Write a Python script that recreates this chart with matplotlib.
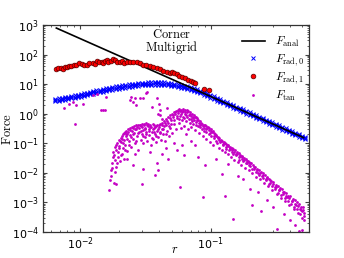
import matplotlib
matplotlib.use("Agg")
import matplotlib.pyplot as plt
from matplotlib.ticker import NullFormatter

plt.rcParams["mathtext.fontset"] = "cm"

# ---------------- data ----------------
anal_r = [0.0066, 0.51]
anal_F = [790.0, 0.155]

# F_rad,0 : radius and (upper, middle, lower) values of the dense band
rad0_r = [0.0065, 0.0069, 0.0073, 0.0077, 0.0081, 0.0086, 0.0091, 0.0096, 0.0101, 0.0107,
          0.0113, 0.0119, 0.0126, 0.0133, 0.0141, 0.0149, 0.0158, 0.0167, 0.0177, 0.0187,
          0.0198, 0.0210, 0.0222, 0.0235, 0.0249, 0.0264, 0.0279, 0.0296, 0.0313, 0.0332,
          0.0351, 0.0372, 0.0394, 0.0417, 0.0442, 0.0468, 0.0496, 0.0525, 0.0556, 0.0589,
          0.0624, 0.0661, 0.0700, 0.0741, 0.0785, 0.0832, 0.0881, 0.0933, 0.0988, 0.1047,
          0.1109, 0.1175, 0.1245, 0.1318, 0.1396, 0.1479, 0.1567, 0.1660, 0.1758, 0.1862,
          0.1972, 0.2089, 0.2213, 0.2344, 0.2483, 0.2630, 0.2786, 0.2951, 0.3126, 0.3311,
          0.3508, 0.3715, 0.3936, 0.4169, 0.4416, 0.4677, 0.4955, 0.5200]
rad0_F = [(3.2, 2.9, 2.6), (3.3, 3.0, 2.75), (3.5, 3.15, 2.9), (3.65, 3.3, 3.0), (3.8, 3.45, 3.15),
          (4.0, 3.6, 3.3), (4.2, 3.8, 3.45), (4.4, 4.0, 3.6), (4.65, 4.2, 3.8), (4.9, 4.45, 4.0),
          (5.2, 4.7, 4.25), (5.5, 4.95, 4.5), (5.8, 5.25, 4.75), (6.1, 5.5, 5.0), (6.5, 5.85, 5.3),
          (6.8, 6.15, 5.6), (7.2, 6.5, 5.9), (7.6, 6.85, 6.2), (8.0, 7.2, 6.5), (8.4, 7.55, 6.8),
          (8.7, 7.9, 7.1), (9.1, 8.25, 7.4), (9.5, 8.6, 7.7), (9.8, 8.9, 8.0), (10.2, 9.2, 8.3),
          (10.5, 9.5, 8.6), (10.8, 9.8, 8.9), (11.1, 10.0, 9.1), (11.3, 10.2, 9.3), (11.5, 10.4, 9.4),
          (11.6, 10.5, 9.5), (11.7, 10.6, 9.6), (11.7, 10.6, 9.6), (11.6, 10.5, 9.5), (11.4, 10.3, 9.3),
          (11.1, 10.0, 9.0), (10.8, 9.7, 8.7), (10.4, 9.3, 8.4), (9.9, 8.9, 8.0), (9.4, 8.5, 7.6),
          (8.9, 8.0, 7.2), (8.4, 7.5, 6.8), (7.8, 7.0, 6.3), (7.2, 6.5, 5.8), (6.6, 5.95, 5.35),
          (6.0, 5.4, 4.9), (5.4, 4.9, 4.4), (4.9, 4.4, 3.95), (4.35, 3.9, 3.5), (3.85, 3.45, 3.1),
          (3.4, 3.05, 2.75), (3.07, 2.77, 2.5), (2.74, 2.47, 2.22), (2.45, 2.21, 1.99), (2.19, 1.97, 1.78),
          (1.95, 1.76, 1.59), (1.74, 1.57, 1.42), (1.56, 1.41, 1.27), (1.40, 1.26, 1.13), (1.24, 1.12, 1.01),
          (1.11, 1.0, 0.90), (0.99, 0.895, 0.805), (0.89, 0.80, 0.72), (0.79, 0.715, 0.645), (0.71, 0.638, 0.575),
          (0.63, 0.57, 0.515), (0.565, 0.509, 0.46), (0.505, 0.455, 0.41), (0.45, 0.406, 0.366), (0.40, 0.363, 0.327),
          (0.36, 0.324, 0.292), (0.32, 0.29, 0.261), (0.287, 0.259, 0.233), (0.256, 0.231, 0.208), (0.229, 0.207, 0.186),
          (0.205, 0.185, 0.166), (0.183, 0.165, 0.149), (0.166, 0.15, 0.135)]

# F_rad,1
rad1_pts = [(0.00656, 32), (0.0068, 35), (0.00713, 35.7), (0.0074, 33), (0.00768, 38.6), (0.0080, 37),
            (0.00828, 41.7), (0.0086, 40), (0.00905, 46), (0.0094, 43), (0.00988, 50), (0.0103, 47),
            (0.0108, 44), (0.01125, 45), (0.0118, 50), (0.01265, 53), (0.0130, 48), (0.0134, 60),
            (0.0139, 55), (0.01465, 57), (0.0150, 52), (0.0155, 62), (0.0160, 66), (0.0165, 58),
            (0.01715, 59), (0.0178, 70), (0.0185, 64), (0.0192, 56), (0.0202, 54), (0.0210, 60),
            (0.0218, 50), (0.0228, 55), (0.0241, 54), (0.0255, 57), (0.0271, 54), (0.0285, 50),
            (0.0304, 46), (0.0320, 44), (0.0342, 40.7), (0.0362, 38), (0.0385, 35.7), (0.0405, 32),
            (0.0432, 28), (0.0460, 26), (0.0486, 24), (0.0501, 26.1), (0.0522, 23.1), (0.0547, 21.3),
            (0.0573, 19.1), (0.0597, 17.7), (0.0633, 15.6), (0.0671, 13.7), (0.070, 12.6), (0.0725, 12.0),
            (0.0755, 10.6), (0.0889, 7.1), (0.0966, 6.1)]

# F_tan : dome part
tan_dome = [(0.0166, 0.0027), (0.0170, 0.0055), (0.0173, 0.012), (0.0176, 0.022), (0.0178, 0.035),
            (0.0180, 0.05), (0.0182, 0.0045), (0.0184, 0.028), (0.0186, 0.075), (0.0188, 0.016),
            (0.0190, 0.06), (0.0192, 0.10), (0.0194, 0.035), (0.0196, 0.05), (0.0198, 0.13),
            (0.0200, 0.08), (0.0202, 0.025), (0.0204, 0.15), (0.0206, 0.11), (0.0208, 0.045),
            (0.0210, 0.18), (0.0212, 0.07), (0.0214, 0.2), (0.0216, 0.13), (0.0218, 0.03),
            (0.0220, 0.24), (0.0222, 0.09), (0.0224, 0.17), (0.0226, 0.26), (0.0228, 0.055),
            (0.0230, 0.21), (0.0233, 0.3), (0.0236, 0.12), (0.0239, 0.33), (0.0242, 0.19),
            (0.0245, 0.075), (0.0248, 0.36), (0.0251, 0.27), (0.0254, 0.14), (0.0257, 0.38),
            (0.0260, 0.22), (0.0263, 0.1), (0.0266, 0.4), (0.0269, 0.3), (0.0272, 0.17),
            (0.0275, 0.43), (0.0278, 0.06), (0.0281, 0.34), (0.0284, 0.24), (0.0287, 0.42),
            (0.0290, 0.13), (0.0293, 0.38), (0.0296, 0.2), (0.0299, 0.45), (0.0302, 0.28),
            (0.0305, 0.1), (0.0308, 0.44), (0.0311, 0.33), (0.0314, 0.16), (0.0317, 0.47),
            (0.0320, 0.25), (0.0323, 0.4), (0.0326, 0.12), (0.0330, 0.46), (0.0334, 0.3),
            (0.0338, 0.19), (0.0342, 0.43), (0.0346, 0.09), (0.0350, 0.36), (0.0354, 0.25),
            (0.0358, 0.44), (0.0362, 0.14), (0.0366, 0.32), (0.0370, 0.4), (0.0374, 0.2),
            (0.0378, 0.11), (0.0382, 0.38), (0.0386, 0.27), (0.0390, 0.42), (0.0395, 0.16),
            (0.0400, 0.35), (0.0405, 0.22), (0.0410, 0.45), (0.0415, 0.13), (0.0420, 0.3),
            (0.0425, 0.5), (0.0430, 0.2), (0.0435, 0.38), (0.0440, 0.58), (0.0445, 0.12),
            (0.0450, 0.42), (0.0455, 0.65), (0.0460, 0.26), (0.0466, 0.75), (0.0472, 0.5),
            (0.0478, 0.17), (0.0484, 0.88), (0.0490, 0.34), (0.0496, 0.62), (0.0502, 1.0),
            (0.0508, 0.22), (0.0514, 0.75), (0.0520, 1.12), (0.0526, 0.45), (0.0532, 0.95),
            (0.0538, 1.25), (0.0544, 0.3), (0.0550, 0.7), (0.0556, 1.35), (0.0562, 1.05),
            (0.0568, 0.5), (0.0574, 1.4), (0.0580, 0.85), (0.0586, 0.32), (0.0592, 1.3),
            (0.0598, 1.1), (0.0604, 0.6), (0.0610, 1.42), (0.0617, 0.8), (0.0624, 0.38),
            (0.0631, 1.3), (0.0638, 1.0), (0.0645, 0.55), (0.0652, 1.35), (0.0659, 0.75),
            (0.0666, 0.3), (0.0673, 1.2), (0.0680, 0.9), (0.0687, 0.5), (0.0694, 1.1),
            (0.0701, 0.68), (0.0708, 0.35), (0.0716, 1.0), (0.0724, 0.78), (0.0732, 0.45),
            (0.0740, 0.9), (0.0748, 0.6), (0.0756, 0.28), (0.0764, 0.8), (0.0772, 0.52),
            (0.0780, 0.7), (0.0790, 0.38), (0.0800, 0.62), (0.0810, 0.22), (0.0820, 0.55),
            (0.0830, 0.42), (0.0840, 0.5), (0.0850, 0.3), (0.0860, 0.46), (0.0870, 0.18),
            (0.0880, 0.4), (0.0890, 0.33),
            (0.0172, 0.008), (0.0177, 0.015), (0.0181, 0.04), (0.0185, 0.011), (0.0189, 0.085),
            (0.0193, 0.022), (0.0197, 0.07), (0.0201, 0.12), (0.0205, 0.04), (0.0209, 0.14),
            (0.0213, 0.1), (0.0217, 0.22), (0.0221, 0.06), (0.0225, 0.2), (0.0229, 0.14),
            (0.0234, 0.25), (0.0238, 0.09), (0.0243, 0.28), (0.0247, 0.16), (0.0252, 0.33),
            (0.0256, 0.2), (0.0261, 0.3), (0.0267, 0.12), (0.0273, 0.36), (0.0279, 0.22),
            (0.0285, 0.4), (0.0291, 0.27), (0.0297, 0.36), (0.0303, 0.18), (0.0309, 0.4),
            (0.0316, 0.3), (0.0322, 0.2), (0.0329, 0.38), (0.0336, 0.26), (0.0344, 0.36),
            (0.0352, 0.15), (0.0360, 0.3), (0.0368, 0.24), (0.0376, 0.35), (0.0384, 0.18),
            (0.0393, 0.3), (0.0402, 0.4), (0.0412, 0.25), (0.0422, 0.42), (0.0433, 0.3),
            (0.0443, 0.48), (0.0453, 0.2), (0.0463, 0.55), (0.0475, 0.38), (0.0487, 0.7),
            (0.0499, 0.45), (0.0511, 0.9), (0.0523, 0.6), (0.0535, 1.1), (0.0547, 0.85),
            (0.0559, 1.2), (0.0571, 0.65), (0.0583, 1.25), (0.0595, 0.95), (0.0607, 1.2),
            (0.0620, 0.7), (0.0634, 1.15), (0.0648, 0.9), (0.0662, 1.1), (0.0676, 0.65),
            (0.0690, 0.95), (0.0705, 0.85), (0.0720, 0.55), (0.0736, 0.7), (0.0752, 0.75),
            (0.0768, 0.42), (0.0785, 0.6), (0.0805, 0.5), (0.0825, 0.35), (0.0845, 0.44),
            (0.0865, 0.38), (0.0885, 0.26)]

# F_tan : decaying tail
tan_tail = [(0.0905, 0.40), (0.0915, 0.25), (0.0925, 0.14), (0.0935, 0.33),
            (0.0950, 0.36), (0.0960, 0.2), (0.0970, 0.28), (0.0980, 0.11),
            (0.0995, 0.30), (0.1005, 0.17), (0.1015, 0.24), (0.1030, 0.09),
            (0.1045, 0.26), (0.1055, 0.15), (0.1070, 0.21), (0.1085, 0.12),
            (0.1100, 0.19), (0.1115, 0.10), (0.1130, 0.16), (0.1145, 0.07),
            (0.1160, 0.15), (0.1175, 0.11), (0.1190, 0.13), (0.1205, 0.06),
            (0.1225, 0.12), (0.1240, 0.085), (0.1255, 0.10), (0.1270, 0.05),
            (0.1290, 0.105), (0.1305, 0.075), (0.1320, 0.09), (0.1340, 0.045),
            (0.1360, 0.088), (0.1380, 0.06), (0.1400, 0.075), (0.1420, 0.035),
            (0.1440, 0.07), (0.1460, 0.05), (0.1480, 0.062), (0.1500, 0.028),
            (0.1525, 0.058), (0.1550, 0.04), (0.1575, 0.05), (0.1600, 0.024),
            (0.1625, 0.046), (0.1650, 0.033), (0.1675, 0.04), (0.1700, 0.019),
            (0.1730, 0.038), (0.1760, 0.026), (0.1790, 0.032), (0.1820, 0.015),
            (0.1850, 0.03), (0.1880, 0.021), (0.1910, 0.026), (0.1940, 0.012),
            (0.1970, 0.024), (0.2000, 0.017), (0.2030, 0.021), (0.2060, 0.0095),
            (0.2100, 0.019), (0.2140, 0.013), (0.2180, 0.016), (0.2220, 0.0075),
            (0.2260, 0.014), (0.2300, 0.010), (0.2340, 0.012), (0.2380, 0.006),
            (0.2420, 0.011), (0.2460, 0.0078), (0.2500, 0.0095), (0.2550, 0.0045),
            (0.2600, 0.0085), (0.2650, 0.006), (0.2700, 0.007), (0.2750, 0.0035),
            (0.2800, 0.0063), (0.2850, 0.0045), (0.2900, 0.0053), (0.2950, 0.0026),
            (0.3000, 0.0048), (0.3060, 0.0034), (0.3120, 0.004), (0.3180, 0.0019),
            (0.3240, 0.0036), (0.3300, 0.0026), (0.3360, 0.003), (0.3420, 0.0014),
            (0.3490, 0.0028), (0.3560, 0.0019), (0.3630, 0.0023), (0.3700, 0.0011),
            (0.3770, 0.0021), (0.3840, 0.0015), (0.3910, 0.0017), (0.3980, 0.0008),
            (0.4050, 0.0016), (0.4130, 0.0011), (0.4210, 0.0013), (0.4290, 0.0006),
            (0.4370, 0.0012), (0.4450, 0.0008), (0.4530, 0.001), (0.4610, 0.00045),
            (0.4700, 0.0009), (0.4790, 0.0006), (0.4880, 0.0007), (0.4970, 0.0003),
            (0.5050, 0.0007), (0.5100, 0.00045), (0.5150, 0.00025), (0.5080, 0.00055),
            (0.0910, 0.30), (0.0990, 0.22), (0.1060, 0.18), (0.1150, 0.13), (0.1230, 0.095),
            (0.1310, 0.062), (0.1390, 0.065), (0.1470, 0.042), (0.1560, 0.045), (0.1640, 0.028),
            (0.1740, 0.03), (0.1840, 0.022), (0.1950, 0.018), (0.2070, 0.014), (0.2200, 0.011),
            (0.2320, 0.0085), (0.2480, 0.0065), (0.2620, 0.0055), (0.2780, 0.0042), (0.2930, 0.0035),
            (0.3100, 0.0028), (0.3270, 0.0021), (0.3450, 0.0018), (0.3650, 0.0014), (0.3850, 0.0011),
            (0.4080, 0.0009), (0.4320, 0.0007), (0.4570, 0.0006), (0.4820, 0.0004), (0.5000, 0.0005),
            (0.0920, 0.37), (0.0965, 0.32), (0.1010, 0.27), (0.1050, 0.22), (0.1095, 0.17),
            (0.1140, 0.15), (0.1185, 0.12), (0.1250, 0.11), (0.1300, 0.095), (0.1350, 0.08),
            (0.1410, 0.068), (0.1450, 0.058), (0.1510, 0.05), (0.1590, 0.042), (0.1660, 0.036),
            (0.1720, 0.033), (0.1800, 0.028), (0.1870, 0.025), (0.1990, 0.021), (0.2120, 0.016),
            (0.2240, 0.012), (0.2360, 0.01), (0.2520, 0.0082), (0.2680, 0.0065), (0.2820, 0.0055),
            (0.2980, 0.0043), (0.3150, 0.0033), (0.3330, 0.0027), (0.3520, 0.0022), (0.3720, 0.0017),
            (0.3930, 0.0014), (0.4170, 0.0011), (0.4400, 0.0009), (0.4650, 0.00075), (0.4900, 0.00055),
            (0.5120, 0.00035)]

# F_tan : scattered outliers
tan_sparse = [(0.0190, 0.0043), (0.0296, 0.0043), (0.0580, 0.0033), (0.0373, 0.0083), (0.0392, 0.012),
              (0.0304, 0.014), (0.0385, 0.021), (0.0800, 0.034), (0.0550, 0.058), (0.0255, 0.018),
              (0.0229, 0.03), (0.0265, 0.045), (0.0420, 0.045), (0.0470, 0.03), (0.0600, 0.086),
              (0.0620, 0.039), (0.0874, 0.0015), (0.0900, 0.018), (0.121, 0.0093), (0.128, 0.0017),
              (0.148, 0.00028), (0.243, 0.00053), (0.32, 0.00013), (0.205, 0.00079), (0.198, 0.0029),
              (0.11, 0.03), (0.135, 0.02), (0.16, 0.008), (0.175, 0.006), (0.23, 0.0022),
              (0.27, 0.0012), (0.30, 0.0007), (0.36, 0.0004), (0.40, 0.00025), (0.44, 0.00017),
              (0.47, 0.00011), (0.50, 0.00012), (0.0700, 0.12), (0.0750, 0.09), (0.0650, 0.2),
              (0.0340, 0.05), (0.0450, 0.07), (0.0520, 0.1),
              (0.0075, 1.6), (0.0083, 2.2), (0.0089, 2.5), (0.0093, 1.9), (0.0092, 0.44),
              (0.0106, 2.1), (0.0126, 4.2), (0.0134, 4.5), (0.0150, 1.3), (0.0155, 1.3),
              (0.0158, 3.7), (0.0146, 1.3), (0.0240, 2.9), (0.0255, 2.4), (0.0270, 1.9),
              (0.0287, 3.3), (0.0318, 5.1), (0.0304, 3.3), (0.0323, 5.5), (0.0352, 1.7),
              (0.0395, 1.0), (0.0390, 3.3), (0.0420, 0.68), (0.0460, 1.6), (0.0400, 2.2),
              (0.0410, 1.3), (0.0262, 3.4), (0.0245, 3.7), (0.0410, 0.9)]

labels = [r"$F_{\rm anal}$", r"$F_{{\rm rad},0}$", r"$F_{{\rm rad},1}$", r"$F_{\rm tan}$"]
title_lines = [r"$\mathrm{Corner}$", r"$\mathrm{Multigrid}$"]
# -----------------------------------------------------------------

fig = plt.figure(figsize=(3.44, 2.58), dpi=100)
ax = fig.add_axes([0.125, 0.101, 0.773, 0.802])
ax.set_xscale("log")
ax.set_yscale("log")

b_r = [r for r, trip in zip(rad0_r, rad0_F) for _ in trip]
b_F = [f for trip in rad0_F for f in trip]
h0, = ax.plot(b_r, b_F, "x", color="#0000ff", ms=3.2, mew=0.7, ls="none", zorder=2)

tan_all = tan_dome + tan_tail + tan_sparse
h3, = ax.plot([p[0] for p in tan_all], [p[1] for p in tan_all], "o", color="#c400c4",
              ms=2.0, mew=0, ls="none", zorder=2)

ha, = ax.plot(anal_r, anal_F, "-", color="k", lw=1.2, zorder=3)

h1, = ax.plot([p[0] for p in rad1_pts], [p[1] for p in rad1_pts], "o", mfc="#ff0000",
              mec="#5a0000", ms=3.4, mew=0.5, ls="none", zorder=4)

ax.set_xlim(0.00522, 0.56)
ax.set_ylim(1e-4, 1e3)
ax.xaxis.set_minor_formatter(NullFormatter())
ax.yaxis.set_minor_formatter(NullFormatter())
ax.xaxis.get_offset_text().set_visible(False)
ax.yaxis.get_offset_text().set_visible(False)

ax.tick_params(which="both", direction="in", top=True, right=True, labelsize=8,
               color="#444444")
ax.tick_params(which="major", length=3)
ax.tick_params(which="minor", length=1.6)
ax.tick_params(axis="x", which="major", pad=2.5)
ax.tick_params(axis="y", which="major", pad=3)
for s in ax.spines.values():
    s.set_color("#333333")
    s.set_linewidth(0.9)

ax.set_ylabel(r"$\mathrm{Force}$", fontsize=9)
ax.yaxis.set_label_coords(-0.108, 0.5)
ax.set_xlabel(r"$r$", fontsize=9)
ax.xaxis.set_label_coords(0.497, -0.055)

ax.text(0.485, 0.955, title_lines[0], transform=ax.transAxes, ha="center", va="center", fontsize=9)
ax.text(0.485, 0.89, title_lines[1], transform=ax.transAxes, ha="center", va="center", fontsize=9)

leg = ax.legend([ha, h0, h1, h3], labels, loc="upper left",
                bbox_to_anchor=(0.748, 0.952), frameon=False, fontsize=8.5,
                handlelength=1.95, labelspacing=0.24, handletextpad=0.85,
                borderaxespad=0.0, borderpad=0.0, markerscale=1.0)

fig.savefig("out.png", dpi=100)
